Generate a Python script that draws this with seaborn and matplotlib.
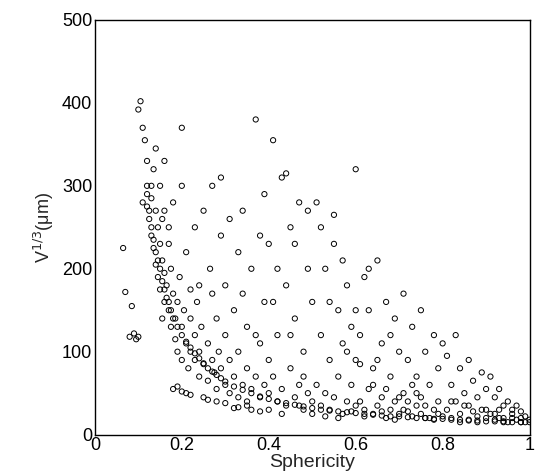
import matplotlib
matplotlib.use("Agg")
import matplotlib.pyplot as plt
import seaborn as sns

# Points, strip by strip along the sphericity axis.
sphericity = [
    0.065, 0.07, 0.08, 0.085, 0.09, 0.095, 0.1, 0.1, 0.105, 0.11, 0.11, 0.115, 0.12, 0.12, 0.12,
    0.125, 0.13, 0.13, 0.135, 0.135, 0.14, 0.14, 0.145, 0.145, 0.15, 0.15, 0.15, 0.155, 0.155, 0.16, 0.16, 0.16, 0.14, 0.13, 0.155,
    0.165, 0.17, 0.17, 0.175, 0.175, 0.18, 0.18, 0.185, 0.185, 0.19, 0.19, 0.195, 0.2, 0.2, 0.2, 0.205, 0.21, 0.21, 0.215, 0.22, 0.22, 0.18, 0.19, 0.2, 0.21, 0.22, 0.17, 0.2, 0.16, 0.22,
    0.23, 0.23, 0.235, 0.24, 0.24, 0.245, 0.25, 0.25, 0.25, 0.26, 0.26, 0.265, 0.27, 0.27, 0.275, 0.28, 0.28, 0.285, 0.29, 0.29, 0.3, 0.3, 0.3, 0.26, 0.28, 0.24, 0.27, 0.29, 0.23, 0.3,
    0.31, 0.31, 0.32, 0.32, 0.33, 0.33, 0.34, 0.34, 0.35, 0.35, 0.35, 0.36, 0.36, 0.37, 0.37, 0.38, 0.38, 0.38, 0.39, 0.39, 0.4, 0.4, 0.4, 0.32, 0.36, 0.33, 0.34, 0.39, 0.31, 0.37, 0.35, 0.4, 0.33, 0.38,
    0.41, 0.41, 0.42, 0.42, 0.43, 0.43, 0.44, 0.44, 0.45, 0.45, 0.46, 0.46, 0.47, 0.47, 0.48, 0.48, 0.49, 0.49, 0.5, 0.5, 0.5, 0.42, 0.44, 0.46, 0.48, 0.43, 0.47, 0.45, 0.41, 0.49,
    0.51, 0.51, 0.52, 0.52, 0.53, 0.53, 0.54, 0.54, 0.55, 0.55, 0.56, 0.56, 0.57, 0.57, 0.58, 0.58, 0.59, 0.59, 0.6, 0.6, 0.6, 0.55, 0.52, 0.57, 0.59, 0.53, 0.56, 0.58, 0.54, 0.6,
    0.61, 0.61, 0.62, 0.62, 0.63, 0.63, 0.64, 0.64, 0.65, 0.65, 0.66, 0.66, 0.67, 0.67, 0.68, 0.68, 0.69, 0.69, 0.7, 0.7, 0.62, 0.64, 0.66, 0.68, 0.7, 0.65, 0.63, 0.67, 0.69, 0.61,
    0.71, 0.71, 0.72, 0.72, 0.73, 0.73, 0.74, 0.74, 0.75, 0.75, 0.76, 0.76, 0.77, 0.77, 0.78, 0.78, 0.79, 0.79, 0.8, 0.8, 0.72, 0.75, 0.78, 0.74, 0.76, 0.73, 0.79, 0.71,
    0.81, 0.81, 0.82, 0.82, 0.83, 0.83, 0.84, 0.84, 0.85, 0.85, 0.86, 0.86, 0.87, 0.87, 0.88, 0.88, 0.89, 0.89, 0.9, 0.9, 0.84, 0.86, 0.88, 0.82, 0.9,
    0.91, 0.91, 0.92, 0.92, 0.93, 0.93, 0.94, 0.94, 0.95, 0.95, 0.96, 0.96, 0.97, 0.97, 0.98, 0.98, 0.99, 0.99, 1.0, 0.92, 0.94, 0.96, 0.98, 0.93,
]
volume_cbrt = [
    225, 172, 118, 155, 122, 115, 118, 392, 402, 370, 280, 355, 330, 300, 275,
    260, 240, 285, 320, 225, 270, 205, 250, 190, 230, 300, 175, 210, 260, 195, 330, 160, 345, 300, 140,
    180, 150, 230, 200, 130, 170, 280, 140, 115, 160, 100, 190, 130, 90, 370, 150, 110, 220, 80, 140, 175, 55, 58, 52, 50, 48, 250, 300, 270, 100,
    120, 90, 160, 100, 70, 130, 85, 270, 45, 110, 65, 200, 90, 300, 75, 140, 55, 100, 80, 240, 60, 120, 38, 42, 40, 180, 170, 310, 250, 180,
    90, 50, 70, 150, 100, 45, 60, 270, 80, 130, 35, 55, 200, 380, 70, 110, 45, 240, 60, 160, 50, 90, 30, 32, 30, 220, 170, 290, 260, 120, 40, 230, 33, 28,
    70, 355, 40, 120, 55, 310, 180, 35, 80, 250, 45, 140, 60, 280, 30, 100, 200, 50, 40, 160, 25, 200, 315, 230, 70, 25, 35, 120, 160, 270,
    60, 280, 35, 120, 50, 200, 30, 90, 230, 45, 70, 150, 25, 110, 40, 180, 60, 130, 320, 35, 90, 265, 250, 210, 28, 22, 20, 100, 160, 150,
    40, 120, 30, 190, 55, 150, 25, 80, 35, 210, 45, 110, 20, 160, 30, 70, 40, 140, 25, 100, 22, 60, 28, 120, 45, 90, 200, 55, 18, 85,
    30, 170, 40, 90, 22, 130, 50, 70, 25, 150, 35, 100, 20, 60, 30, 120, 40, 80, 22, 110, 28, 45, 18, 35, 20, 60, 25, 50,
    30, 95, 20, 60, 40, 120, 25, 80, 35, 50, 18, 90, 28, 65, 22, 45, 30, 75, 20, 55, 15, 35, 15, 40, 30,
    25, 70, 18, 45, 30, 55, 20, 35, 15, 40, 25, 30, 18, 35, 20, 28, 15, 22, 18, 25, 15, 20, 15, 20,
]

# Extra points from the dense main band, where the markers overlap into black.
band_sphericity = [
    0.12, 0.125, 0.13, 0.135, 0.14, 0.145, 0.15, 0.155, 0.16, 0.165, 0.17, 0.175, 0.18, 0.19, 0.2,
    0.21, 0.22, 0.23, 0.24, 0.25, 0.26, 0.27, 0.28, 0.29, 0.3, 0.32, 0.34, 0.36, 0.38, 0.4,
    0.42, 0.44, 0.46, 0.48, 0.5, 0.52, 0.54, 0.56, 0.58, 0.6, 0.62, 0.64, 0.66, 0.68, 0.7,
    0.72, 0.74, 0.76, 0.78, 0.8, 0.82, 0.84, 0.86, 0.88, 0.9, 0.92, 0.94, 0.96, 0.98, 1.0,
]
band_volume_cbrt = [
    290, 270, 250, 235, 220, 210, 200, 185, 175, 165, 160, 150, 140, 130, 120,
    112, 105, 98, 92, 86, 80, 76, 72, 68, 64, 58, 54, 50, 46, 43,
    40, 38, 36, 34, 32, 30, 29, 28, 27, 26, 25, 24, 23, 22, 22,
    21, 20, 20, 19, 19, 18, 18, 17, 17, 16, 16, 16, 15, 15, 15,
]

sns.set_theme(style="white")
plt.rcParams["font.family"] = ["Liberation Sans", "DejaVu Sans"]

fig, ax = plt.subplots(figsize=(5.36, 4.75), dpi=100)
for xs, ys in [(sphericity, volume_cbrt), (band_sphericity, band_volume_cbrt)]:
    sns.scatterplot(
        x=xs, y=ys, ax=ax,
        marker="o", s=14, facecolor="none", edgecolor="black", linewidth=0.7,
    )

ax.set_xlim(0, 1)
ax.set_ylim(0, 500)
ax.set_xticks([0, 0.2, 0.4, 0.6, 0.8, 1])
ax.set_xticklabels(["0", "0.2", "0.4", "0.6", "0.8", "1"])
ax.set_yticks([0, 100, 200, 300, 400, 500])
ax.tick_params(direction="in", length=3, labelsize=13, colors="black", pad=2)
for spine in ax.spines.values():
    spine.set_color("black")
    spine.set_linewidth(1)

ax.set_xlabel("Sphericity", fontsize=14, labelpad=0)
ax.set_ylabel("V$^{1/3}$(μm)", fontsize=13)

fig.subplots_adjust(left=0.177, right=0.988, top=0.958, bottom=0.085)
fig.savefig("out.png", dpi=100, facecolor="white")
